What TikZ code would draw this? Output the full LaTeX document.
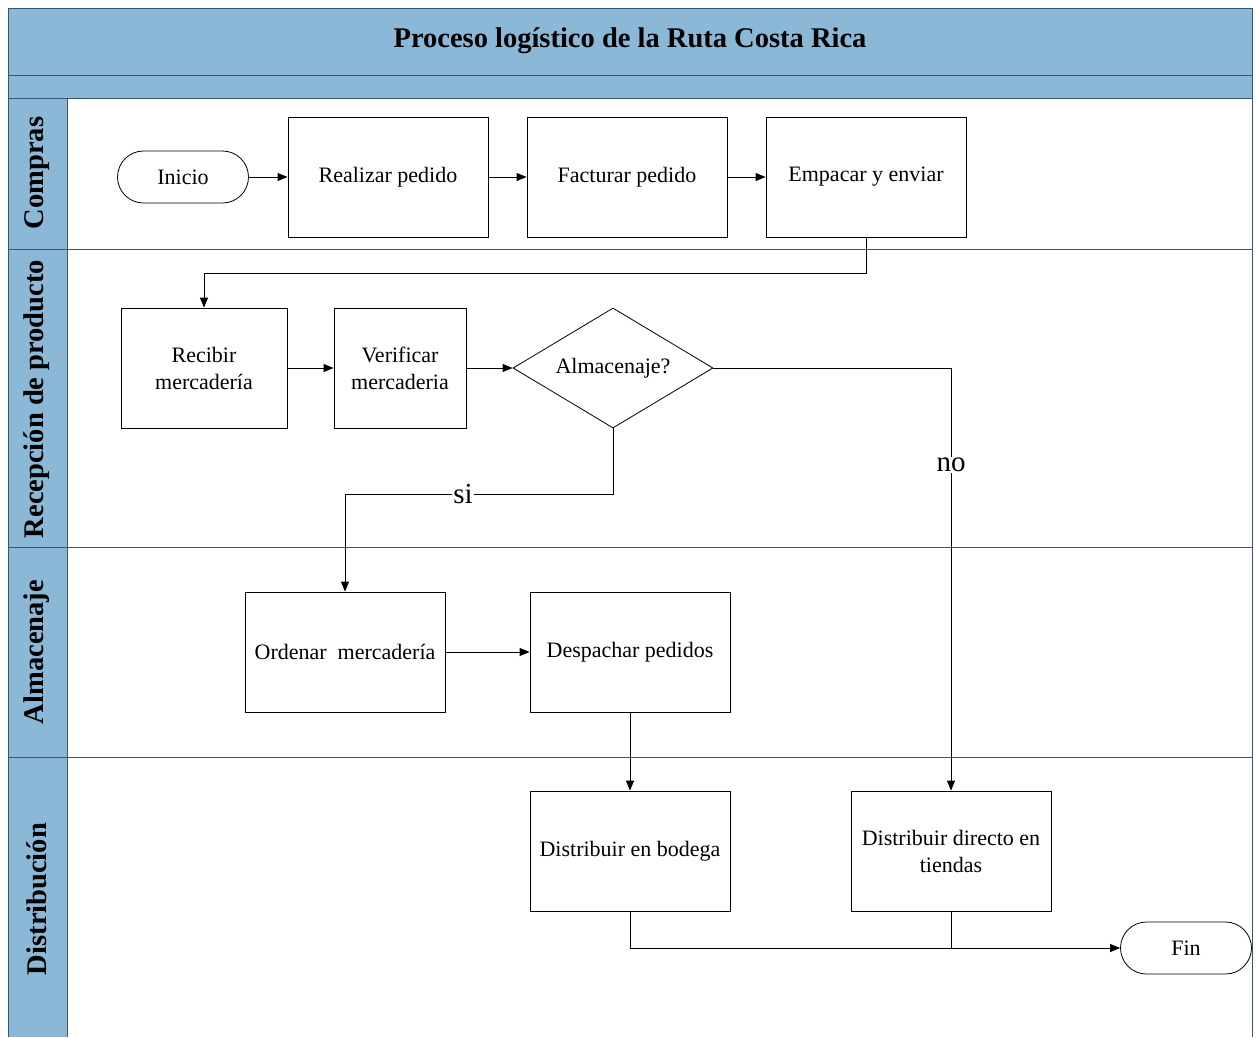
\documentclass[tikz,border=0pt]{standalone}
\usepackage{fontspec}
\setmainfont{Liberation Serif}
\usetikzlibrary{arrows.meta,shapes.geometric,positioning}
\definecolor{lanefill}{RGB}{139,184,214}
\definecolor{laneline}{RGB}{52,88,112}
\tikzset{
  proc/.style={draw, line width=0.8pt, minimum width=200pt, minimum height=120pt,
    align=center, font=\fontsize{22}{27}\selectfont, inner sep=2pt},
  term/.style={draw, line width=0.8pt, rounded corners=26pt, minimum width=131pt,
    minimum height=52pt, font=\fontsize{22}{27}\selectfont},
  decision/.style={draw, line width=0.8pt, diamond, aspect=1.667, minimum width=200pt,
    minimum height=120pt, inner sep=1pt, font=\fontsize{22}{27}\selectfont},
  arr/.style={line width=0.9pt, -{Triangle[length=10pt,width=8pt]}},
  lanetext/.style={rotate=90, font=\bfseries\fontsize{28.5}{30}\selectfont},
  branch/.style={fill=white, inner sep=1pt, font=\fontsize{29}{30}\selectfont}
}
\begin{document}
\begin{tikzpicture}[x=1pt,y=-1pt]
  \useasboundingbox (0,0) rectangle (1256,1037);
  % pool and lanes
  \fill[lanefill] (8,8) rectangle (1252,98);
  \fill[lanefill] (8,98) rectangle (67,1037);
  \draw[laneline, line width=1pt] (8,1037) -- (8,8) -- (1252,8) -- (1252,1037);
  \draw[laneline, line width=1pt] (67,98) -- (67,1037);
  \foreach \y in {75,98,249,547,757}
    \draw[laneline, line width=1pt] (8,\y) -- (1252,\y);
  \node[font=\bfseries\fontsize{28.5}{30}\selectfont] (title) at (630,41) {Proceso logístico de la Ruta Costa Rica};
  \node[lanetext] (compras) at (37,173) {Compras};
  \node[lanetext] (recepcion) at (37,399) {Recepción de producto};
  \node[lanetext] (almacenaje) at (37,652) {Almacenaje};
  \node[lanetext] (distribucion) at (37,899) {Distribución};

  % steps
  \node[term] (inicio) at (183,177) {Inicio};
  \node[proc] (realizar) at (388,177) {Realizar pedido};
  \node[proc] (facturar) at (627,177) {Facturar pedido};
  \node[proc] (empacar) at (866,177) {Empacar y enviar};
  \node[proc, minimum width=166pt] (recibir) at (204,368) {Recibir\\mercadería};
  \node[proc, minimum width=132pt] (verificar) at (400,368) {Verificar\\mercaderia};
  \node[decision] (almacen) at (613,368) {Almacenaje?};
  \node[proc] (ordenar) at (345,652) {Ordenar~~mercadería};
  \node[proc] (despachar) at (630,652) {Despachar pedidos};
  \node[proc] (bodega) at (630,851) {Distribuir en bodega};
  \node[proc] (directo) at (951,851) {Distribuir directo en\\tiendas};
  \node[term] (fin) at (1186,948) {Fin};

  % flow
  \draw[arr] (inicio) -- (realizar);
  \draw[arr] (realizar) -- (facturar);
  \draw[arr] (facturar) -- (empacar);
  \draw[arr] (empacar.south) -- ++(0,36) -| (recibir.north);
  \draw[arr] (recibir) -- (verificar);
  \draw[arr] (verificar) -- (almacen);
  \draw[arr] (almacen.south) -- ++(0,66) -| node[branch, pos=0.28] {si} (ordenar.north);
  \draw[arr] (almacen.east) -| node[branch, pos=0.615] {no} (directo.north);
  \draw[arr] (ordenar) -- (despachar);
  \draw[arr] (despachar) -- (bodega);
  \draw[arr] (bodega.south) |- (fin.west);
  \draw[line width=0.9pt] (directo.south) -- (directo.south |- fin.west);
\end{tikzpicture}
\end{document}
